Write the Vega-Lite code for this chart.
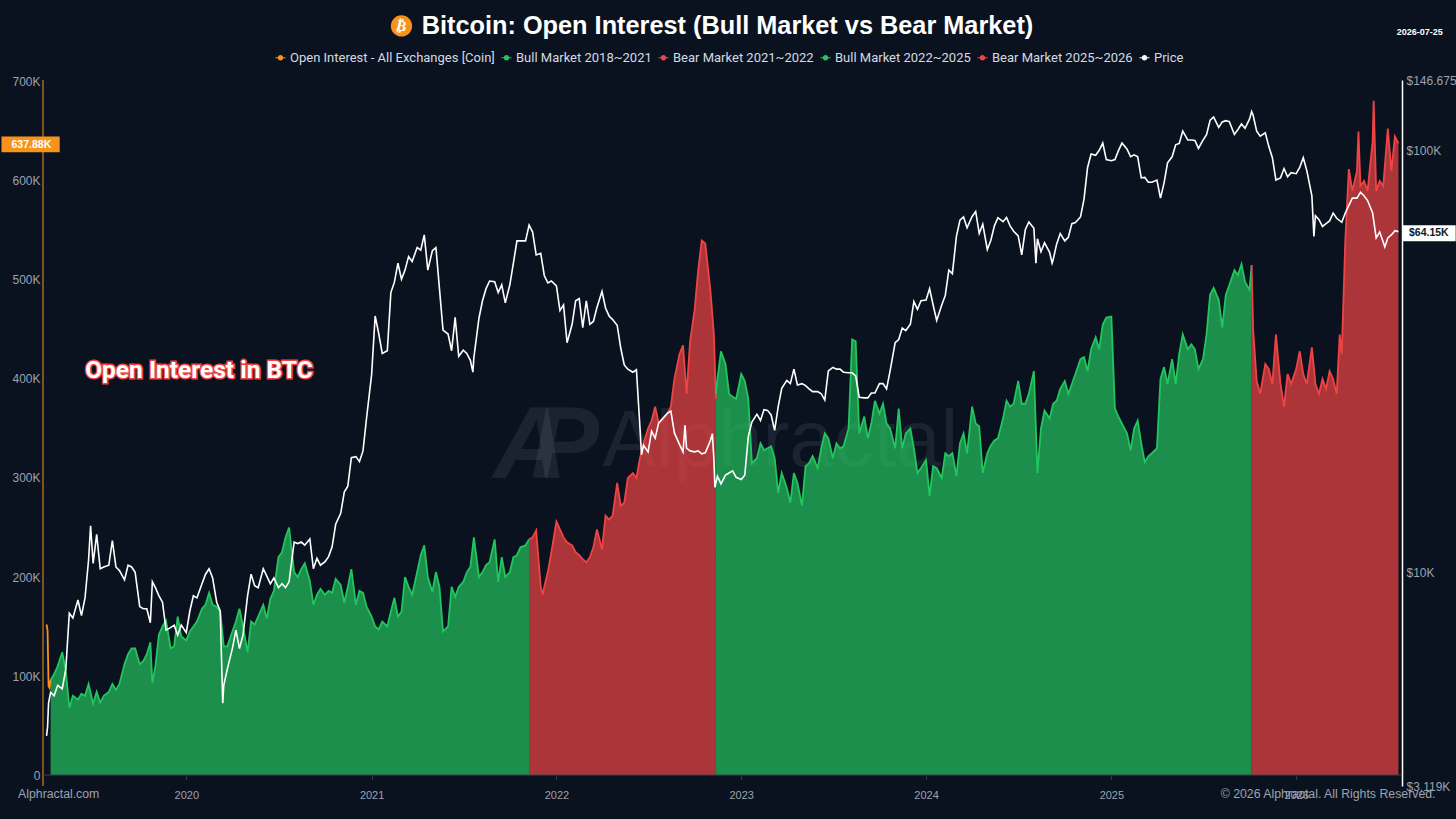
{"$schema":"https://vega.github.io/schema/vega-lite/v6.json","width":1359,"height":706,"autosize":{"type":"none"},"padding":{"left":43,"top":80,"right":54,"bottom":33},"background":"#0a1220","title":{"text":"Bitcoin: Open Interest (Bull Market vs Bear Market)","anchor":"middle","frame":"group","dx":5,"offset":-24,"font":"Liberation Sans","fontSize":25.3,"fontWeight":"bold","color":"#ffffff"},"config":{"view":{"stroke":null},"axis":{"grid":false}},
"datasets":{"oi":[
{"d":"2019-03-31","m":"OI","k":152},{"d":"2019-04-02","m":"OI","k":146},{"d":"2019-04-04","m":"OI","k":90},{"d":"2019-04-06","m":"OI","k":88},{"d":"2019-04-08","m":"OI","k":96},
{"d":"2019-04-08","m":"B1","k":96},{"d":"2019-04-15","m":"B1","k":102},{"d":"2019-04-22","m":"B1","k":110},{"d":"2019-05-01","m":"B1","k":124},{"d":"2019-05-08","m":"B1","k":105},{"d":"2019-05-15","m":"B1","k":68},{"d":"2019-05-22","m":"B1","k":80},{"d":"2019-06-01","m":"B1","k":76},{"d":"2019-06-08","m":"B1","k":82},{"d":"2019-06-15","m":"B1","k":80},{"d":"2019-06-22","m":"B1","k":92},{"d":"2019-07-01","m":"B1","k":72},{"d":"2019-07-08","m":"B1","k":84},{"d":"2019-07-15","m":"B1","k":73},{"d":"2019-07-22","m":"B1","k":80},{"d":"2019-08-01","m":"B1","k":84},{"d":"2019-08-08","m":"B1","k":92},{"d":"2019-08-15","m":"B1","k":86},{"d":"2019-08-22","m":"B1","k":92},{"d":"2019-09-01","m":"B1","k":112},{"d":"2019-09-08","m":"B1","k":122},{"d":"2019-09-15","m":"B1","k":128},{"d":"2019-09-22","m":"B1","k":128},{"d":"2019-10-01","m":"B1","k":112},{"d":"2019-10-08","m":"B1","k":115},{"d":"2019-10-15","m":"B1","k":122},{"d":"2019-10-22","m":"B1","k":134},{"d":"2019-10-26","m":"B1","k":93},{"d":"2019-11-01","m":"B1","k":110},{"d":"2019-11-08","m":"B1","k":142},{"d":"2019-11-15","m":"B1","k":150},{"d":"2019-11-22","m":"B1","k":156},{"d":"2019-12-01","m":"B1","k":128},{"d":"2019-12-08","m":"B1","k":130},{"d":"2019-12-15","m":"B1","k":160},{"d":"2019-12-22","m":"B1","k":140},
{"d":"2020-01-01","m":"B1","k":136},{"d":"2020-01-08","m":"B1","k":145},{"d":"2020-01-15","m":"B1","k":150},{"d":"2020-01-22","m":"B1","k":155},{"d":"2020-02-01","m":"B1","k":168},{"d":"2020-02-08","m":"B1","k":172},{"d":"2020-02-15","m":"B1","k":184},{"d":"2020-02-22","m":"B1","k":172},{"d":"2020-03-01","m":"B1","k":170},{"d":"2020-03-08","m":"B1","k":165},{"d":"2020-03-15","m":"B1","k":130},{"d":"2020-03-22","m":"B1","k":130},{"d":"2020-04-01","m":"B1","k":145},{"d":"2020-04-08","m":"B1","k":155},{"d":"2020-04-15","m":"B1","k":168},{"d":"2020-04-22","m":"B1","k":150},{"d":"2020-05-01","m":"B1","k":124},{"d":"2020-05-08","m":"B1","k":155},{"d":"2020-05-15","m":"B1","k":152},{"d":"2020-05-22","m":"B1","k":160},{"d":"2020-06-01","m":"B1","k":172},{"d":"2020-06-08","m":"B1","k":158},{"d":"2020-06-15","m":"B1","k":178},{"d":"2020-06-22","m":"B1","k":186},{"d":"2020-07-01","m":"B1","k":220},{"d":"2020-07-08","m":"B1","k":225},{"d":"2020-07-15","m":"B1","k":240},{"d":"2020-07-22","m":"B1","k":250},{"d":"2020-08-01","m":"B1","k":205},{"d":"2020-08-08","m":"B1","k":200},{"d":"2020-08-15","m":"B1","k":208},{"d":"2020-08-22","m":"B1","k":214},{"d":"2020-09-01","m":"B1","k":196},{"d":"2020-09-08","m":"B1","k":172},{"d":"2020-09-15","m":"B1","k":182},{"d":"2020-09-22","m":"B1","k":188},{"d":"2020-10-01","m":"B1","k":182},{"d":"2020-10-08","m":"B1","k":186},{"d":"2020-10-15","m":"B1","k":184},{"d":"2020-10-22","m":"B1","k":198},{"d":"2020-11-01","m":"B1","k":192},{"d":"2020-11-08","m":"B1","k":174},{"d":"2020-11-15","m":"B1","k":190},{"d":"2020-11-22","m":"B1","k":208},{"d":"2020-12-01","m":"B1","k":172},{"d":"2020-12-08","m":"B1","k":186},{"d":"2020-12-15","m":"B1","k":184},{"d":"2020-12-22","m":"B1","k":170},
{"d":"2021-01-01","m":"B1","k":160},{"d":"2021-01-08","m":"B1","k":150},{"d":"2021-01-15","m":"B1","k":147},{"d":"2021-01-22","m":"B1","k":155},{"d":"2021-02-01","m":"B1","k":150},{"d":"2021-02-08","m":"B1","k":165},{"d":"2021-02-15","m":"B1","k":179},{"d":"2021-02-22","m":"B1","k":160},{"d":"2021-03-01","m":"B1","k":165},{"d":"2021-03-08","m":"B1","k":200},{"d":"2021-03-15","m":"B1","k":190},{"d":"2021-03-22","m":"B1","k":182},{"d":"2021-04-01","m":"B1","k":205},{"d":"2021-04-08","m":"B1","k":222},{"d":"2021-04-15","m":"B1","k":232},{"d":"2021-04-22","m":"B1","k":200},{"d":"2021-05-01","m":"B1","k":185},{"d":"2021-05-08","m":"B1","k":205},{"d":"2021-05-15","m":"B1","k":190},{"d":"2021-05-22","m":"B1","k":145},{"d":"2021-06-01","m":"B1","k":150},{"d":"2021-06-08","m":"B1","k":190},{"d":"2021-06-15","m":"B1","k":180},{"d":"2021-06-22","m":"B1","k":190},{"d":"2021-07-01","m":"B1","k":195},{"d":"2021-07-08","m":"B1","k":205},{"d":"2021-07-15","m":"B1","k":210},{"d":"2021-07-22","m":"B1","k":240},{"d":"2021-08-01","m":"B1","k":200},{"d":"2021-08-08","m":"B1","k":205},{"d":"2021-08-15","m":"B1","k":212},{"d":"2021-08-22","m":"B1","k":215},{"d":"2021-09-01","m":"B1","k":238},{"d":"2021-09-08","m":"B1","k":195},{"d":"2021-09-15","m":"B1","k":220},{"d":"2021-09-22","m":"B1","k":200},{"d":"2021-10-01","m":"B1","k":205},{"d":"2021-10-08","m":"B1","k":220},{"d":"2021-10-15","m":"B1","k":222},{"d":"2021-10-22","m":"B1","k":230},{"d":"2021-11-01","m":"B1","k":232},{"d":"2021-11-08","m":"B1","k":238},
{"d":"2021-11-08","m":"R1","k":238},{"d":"2021-11-15","m":"R1","k":240},{"d":"2021-11-22","m":"R1","k":247},{"d":"2021-12-01","m":"R1","k":190},{"d":"2021-12-05","m":"R1","k":182},{"d":"2021-12-08","m":"R1","k":190},{"d":"2021-12-15","m":"R1","k":205},{"d":"2021-12-22","m":"R1","k":225},{"d":"2022-01-01","m":"R1","k":256},{"d":"2022-01-08","m":"R1","k":248},{"d":"2022-01-15","m":"R1","k":240},{"d":"2022-01-22","m":"R1","k":235},{"d":"2022-02-01","m":"R1","k":232},{"d":"2022-02-08","m":"R1","k":225},{"d":"2022-02-15","m":"R1","k":222},{"d":"2022-02-22","m":"R1","k":218},{"d":"2022-03-01","m":"R1","k":215},{"d":"2022-03-08","m":"R1","k":220},{"d":"2022-03-15","m":"R1","k":230},{"d":"2022-03-22","m":"R1","k":248},{"d":"2022-04-01","m":"R1","k":228},{"d":"2022-04-08","m":"R1","k":262},{"d":"2022-04-15","m":"R1","k":258},{"d":"2022-04-22","m":"R1","k":262},{"d":"2022-05-01","m":"R1","k":295},{"d":"2022-05-08","m":"R1","k":272},{"d":"2022-05-15","m":"R1","k":275},{"d":"2022-05-22","m":"R1","k":300},{"d":"2022-06-01","m":"R1","k":305},{"d":"2022-06-08","m":"R1","k":300},{"d":"2022-06-15","m":"R1","k":320},{"d":"2022-06-22","m":"R1","k":335},{"d":"2022-07-01","m":"R1","k":350},{"d":"2022-07-08","m":"R1","k":358},{"d":"2022-07-15","m":"R1","k":372},{"d":"2022-07-22","m":"R1","k":355},{"d":"2022-08-01","m":"R1","k":360},{"d":"2022-08-08","m":"R1","k":365},{"d":"2022-08-15","m":"R1","k":372},{"d":"2022-08-22","m":"R1","k":400},{"d":"2022-09-01","m":"R1","k":425},{"d":"2022-09-08","m":"R1","k":434},{"d":"2022-09-15","m":"R1","k":385},{"d":"2022-09-22","m":"R1","k":438},{"d":"2022-10-01","m":"R1","k":470},{"d":"2022-10-08","m":"R1","k":510},{"d":"2022-10-15","m":"R1","k":540},{"d":"2022-10-22","m":"R1","k":537},{"d":"2022-11-01","m":"R1","k":490},{"d":"2022-11-08","m":"R1","k":445},{"d":"2022-11-12","m":"R1","k":380},
{"d":"2022-11-12","m":"B2","k":385},{"d":"2022-11-15","m":"B2","k":400},{"d":"2022-11-22","m":"B2","k":428},{"d":"2022-12-01","m":"B2","k":415},{"d":"2022-12-08","m":"B2","k":385},{"d":"2022-12-15","m":"B2","k":382},{"d":"2022-12-22","m":"B2","k":380},{"d":"2023-01-01","m":"B2","k":405},{"d":"2023-01-08","m":"B2","k":398},{"d":"2023-01-15","m":"B2","k":380},{"d":"2023-01-22","m":"B2","k":315},{"d":"2023-02-01","m":"B2","k":320},{"d":"2023-02-08","m":"B2","k":335},{"d":"2023-02-15","m":"B2","k":328},{"d":"2023-02-22","m":"B2","k":330},{"d":"2023-03-01","m":"B2","k":332},{"d":"2023-03-08","m":"B2","k":320},{"d":"2023-03-15","m":"B2","k":285},{"d":"2023-03-22","m":"B2","k":305},{"d":"2023-04-01","m":"B2","k":290},{"d":"2023-04-08","m":"B2","k":275},{"d":"2023-04-15","m":"B2","k":305},{"d":"2023-04-22","m":"B2","k":295},{"d":"2023-05-01","m":"B2","k":272},{"d":"2023-05-08","m":"B2","k":312},{"d":"2023-05-15","m":"B2","k":315},{"d":"2023-05-22","m":"B2","k":322},{"d":"2023-06-01","m":"B2","k":310},{"d":"2023-06-08","m":"B2","k":330},{"d":"2023-06-15","m":"B2","k":345},{"d":"2023-06-22","m":"B2","k":340},{"d":"2023-07-01","m":"B2","k":320},{"d":"2023-07-08","m":"B2","k":335},{"d":"2023-07-15","m":"B2","k":330},{"d":"2023-07-22","m":"B2","k":332},{"d":"2023-08-01","m":"B2","k":350},{"d":"2023-08-08","m":"B2","k":440},{"d":"2023-08-15","m":"B2","k":438},{"d":"2023-08-22","m":"B2","k":345},{"d":"2023-09-01","m":"B2","k":362},{"d":"2023-09-08","m":"B2","k":340},{"d":"2023-09-15","m":"B2","k":355},{"d":"2023-09-22","m":"B2","k":378},{"d":"2023-10-01","m":"B2","k":365},{"d":"2023-10-08","m":"B2","k":375},{"d":"2023-10-15","m":"B2","k":355},{"d":"2023-10-22","m":"B2","k":350},{"d":"2023-11-01","m":"B2","k":330},{"d":"2023-11-08","m":"B2","k":370},{"d":"2023-11-15","m":"B2","k":330},{"d":"2023-11-22","m":"B2","k":345},{"d":"2023-12-01","m":"B2","k":350},{"d":"2023-12-08","m":"B2","k":330},{"d":"2023-12-15","m":"B2","k":305},{"d":"2023-12-22","m":"B2","k":310},
{"d":"2024-01-01","m":"B2","k":318},{"d":"2024-01-08","m":"B2","k":282},{"d":"2024-01-15","m":"B2","k":312},{"d":"2024-01-22","m":"B2","k":310},{"d":"2024-02-01","m":"B2","k":300},{"d":"2024-02-08","m":"B2","k":325},{"d":"2024-02-15","m":"B2","k":322},{"d":"2024-02-22","m":"B2","k":325},{"d":"2024-03-01","m":"B2","k":302},{"d":"2024-03-08","m":"B2","k":335},{"d":"2024-03-15","m":"B2","k":345},{"d":"2024-03-22","m":"B2","k":325},{"d":"2024-04-01","m":"B2","k":372},{"d":"2024-04-08","m":"B2","k":355},{"d":"2024-04-15","m":"B2","k":352},{"d":"2024-04-22","m":"B2","k":305},{"d":"2024-05-01","m":"B2","k":325},{"d":"2024-05-08","m":"B2","k":333},{"d":"2024-05-15","m":"B2","k":338},{"d":"2024-05-22","m":"B2","k":340},{"d":"2024-06-01","m":"B2","k":360},{"d":"2024-06-08","m":"B2","k":378},{"d":"2024-06-15","m":"B2","k":372},{"d":"2024-06-22","m":"B2","k":375},{"d":"2024-07-01","m":"B2","k":398},{"d":"2024-07-08","m":"B2","k":375},{"d":"2024-07-15","m":"B2","k":375},{"d":"2024-07-22","m":"B2","k":385},{"d":"2024-08-01","m":"B2","k":408},{"d":"2024-08-08","m":"B2","k":305},{"d":"2024-08-15","m":"B2","k":350},{"d":"2024-08-22","m":"B2","k":368},{"d":"2024-09-01","m":"B2","k":360},{"d":"2024-09-08","m":"B2","k":375},{"d":"2024-09-15","m":"B2","k":378},{"d":"2024-09-22","m":"B2","k":390},{"d":"2024-10-01","m":"B2","k":398},{"d":"2024-10-08","m":"B2","k":385},{"d":"2024-10-15","m":"B2","k":395},{"d":"2024-10-22","m":"B2","k":405},{"d":"2024-11-01","m":"B2","k":420},{"d":"2024-11-08","m":"B2","k":422},{"d":"2024-11-15","m":"B2","k":408},{"d":"2024-11-22","m":"B2","k":430},{"d":"2024-12-01","m":"B2","k":442},{"d":"2024-12-08","m":"B2","k":430},{"d":"2024-12-15","m":"B2","k":455},{"d":"2024-12-22","m":"B2","k":462},
{"d":"2025-01-01","m":"B2","k":463},{"d":"2025-01-08","m":"B2","k":370},{"d":"2025-01-15","m":"B2","k":362},{"d":"2025-01-22","m":"B2","k":355},{"d":"2025-02-01","m":"B2","k":345},{"d":"2025-02-08","m":"B2","k":328},{"d":"2025-02-15","m":"B2","k":350},{"d":"2025-02-22","m":"B2","k":358},{"d":"2025-03-01","m":"B2","k":335},{"d":"2025-03-08","m":"B2","k":316},{"d":"2025-03-15","m":"B2","k":322},{"d":"2025-03-22","m":"B2","k":325},{"d":"2025-04-01","m":"B2","k":330},{"d":"2025-04-08","m":"B2","k":400},{"d":"2025-04-15","m":"B2","k":412},{"d":"2025-04-22","m":"B2","k":395},{"d":"2025-05-01","m":"B2","k":420},{"d":"2025-05-08","m":"B2","k":395},{"d":"2025-05-15","m":"B2","k":425},{"d":"2025-05-22","m":"B2","k":445},{"d":"2025-06-01","m":"B2","k":430},{"d":"2025-06-08","m":"B2","k":435},{"d":"2025-06-15","m":"B2","k":430},{"d":"2025-06-22","m":"B2","k":410},{"d":"2025-07-01","m":"B2","k":420},{"d":"2025-07-08","m":"B2","k":445},{"d":"2025-07-15","m":"B2","k":485},{"d":"2025-07-22","m":"B2","k":492},{"d":"2025-08-01","m":"B2","k":480},{"d":"2025-08-08","m":"B2","k":452},{"d":"2025-08-15","m":"B2","k":485},{"d":"2025-08-22","m":"B2","k":495},{"d":"2025-09-01","m":"B2","k":510},{"d":"2025-09-08","m":"B2","k":505},{"d":"2025-09-15","m":"B2","k":516},{"d":"2025-09-22","m":"B2","k":498},{"d":"2025-10-01","m":"B2","k":490},{"d":"2025-10-05","m":"B2","k":515},
{"d":"2025-10-05","m":"R2","k":515},{"d":"2025-10-08","m":"R2","k":450},{"d":"2025-10-15","m":"R2","k":398},{"d":"2025-10-22","m":"R2","k":385},{"d":"2025-11-01","m":"R2","k":415},{"d":"2025-11-08","m":"R2","k":410},{"d":"2025-11-15","m":"R2","k":395},{"d":"2025-11-22","m":"R2","k":445},{"d":"2025-12-01","m":"R2","k":395},{"d":"2025-12-08","m":"R2","k":372},{"d":"2025-12-15","m":"R2","k":405},{"d":"2025-12-22","m":"R2","k":395},{"d":"2026-01-01","m":"R2","k":410},{"d":"2026-01-08","m":"R2","k":428},{"d":"2026-01-15","m":"R2","k":405},{"d":"2026-01-22","m":"R2","k":395},{"d":"2026-02-01","m":"R2","k":432},{"d":"2026-02-08","m":"R2","k":395},{"d":"2026-02-15","m":"R2","k":385},{"d":"2026-02-22","m":"R2","k":400},{"d":"2026-03-01","m":"R2","k":390},{"d":"2026-03-08","m":"R2","k":408},{"d":"2026-03-15","m":"R2","k":400},{"d":"2026-03-22","m":"R2","k":385},{"d":"2026-03-28","m":"R2","k":445},{"d":"2026-04-01","m":"R2","k":425},{"d":"2026-04-08","m":"R2","k":540},{"d":"2026-04-15","m":"R2","k":612},{"d":"2026-04-22","m":"R2","k":590},{"d":"2026-05-01","m":"R2","k":610},{"d":"2026-05-04","m":"R2","k":650},{"d":"2026-05-08","m":"R2","k":595},{"d":"2026-05-15","m":"R2","k":600},{"d":"2026-05-22","m":"R2","k":590},{"d":"2026-06-01","m":"R2","k":640},{"d":"2026-06-03","m":"R2","k":681},{"d":"2026-06-08","m":"R2","k":590},{"d":"2026-06-15","m":"R2","k":600},{"d":"2026-06-22","m":"R2","k":595},{"d":"2026-07-01","m":"R2","k":653},{"d":"2026-07-08","m":"R2","k":610},{"d":"2026-07-15","m":"R2","k":645},{"d":"2026-07-22","m":"R2","k":638}
],"price":[
{"d":"2019-03-31","m":"P","k":4.1},{"d":"2019-04-02","m":"P","k":4.3},{"d":"2019-04-04","m":"P","k":4.9},{"d":"2019-04-08","m":"P","k":5.2},{"d":"2019-04-15","m":"P","k":5.1},{"d":"2019-04-22","m":"P","k":5.4},{"d":"2019-05-01","m":"P","k":5.3},{"d":"2019-05-08","m":"P","k":5.9},{"d":"2019-05-15","m":"P","k":8.0},{"d":"2019-05-22","m":"P","k":7.8},{"d":"2019-06-01","m":"P","k":8.6},{"d":"2019-06-08","m":"P","k":7.9},{"d":"2019-06-15","m":"P","k":8.7},{"d":"2019-06-22","m":"P","k":10.7},{"d":"2019-06-26","m":"P","k":12.9},{"d":"2019-07-01","m":"P","k":10.5},{"d":"2019-07-08","m":"P","k":12.3},{"d":"2019-07-15","m":"P","k":10.2},{"d":"2019-07-22","m":"P","k":10.3},{"d":"2019-08-01","m":"P","k":10.4},{"d":"2019-08-08","m":"P","k":11.9},{"d":"2019-08-15","m":"P","k":10.3},{"d":"2019-08-22","m":"P","k":10.1},{"d":"2019-09-01","m":"P","k":9.6},{"d":"2019-09-08","m":"P","k":10.4},{"d":"2019-09-15","m":"P","k":10.3},{"d":"2019-09-22","m":"P","k":10.0},{"d":"2019-10-01","m":"P","k":8.3},{"d":"2019-10-08","m":"P","k":8.2},{"d":"2019-10-15","m":"P","k":8.2},{"d":"2019-10-22","m":"P","k":7.6},{"d":"2019-10-26","m":"P","k":9.5},{"d":"2019-11-01","m":"P","k":9.2},{"d":"2019-11-08","m":"P","k":8.8},{"d":"2019-11-15","m":"P","k":8.5},{"d":"2019-11-22","m":"P","k":7.3},{"d":"2019-12-01","m":"P","k":7.4},{"d":"2019-12-08","m":"P","k":7.5},{"d":"2019-12-15","m":"P","k":7.1},{"d":"2019-12-22","m":"P","k":7.5},
{"d":"2020-01-01","m":"P","k":7.2},{"d":"2020-01-08","m":"P","k":8.1},{"d":"2020-01-15","m":"P","k":8.8},{"d":"2020-01-22","m":"P","k":8.7},{"d":"2020-02-01","m":"P","k":9.4},{"d":"2020-02-08","m":"P","k":9.9},{"d":"2020-02-15","m":"P","k":10.2},{"d":"2020-02-22","m":"P","k":9.7},{"d":"2020-03-01","m":"P","k":8.5},{"d":"2020-03-08","m":"P","k":8.1},{"d":"2020-03-13","m":"P","k":4.9},{"d":"2020-03-15","m":"P","k":5.4},{"d":"2020-03-22","m":"P","k":5.9},{"d":"2020-04-01","m":"P","k":6.6},{"d":"2020-04-08","m":"P","k":7.3},{"d":"2020-04-15","m":"P","k":6.6},{"d":"2020-04-22","m":"P","k":7.1},{"d":"2020-05-01","m":"P","k":8.8},{"d":"2020-05-08","m":"P","k":9.9},{"d":"2020-05-15","m":"P","k":9.3},{"d":"2020-05-22","m":"P","k":9.2},{"d":"2020-06-01","m":"P","k":10.2},{"d":"2020-06-08","m":"P","k":9.8},{"d":"2020-06-15","m":"P","k":9.4},{"d":"2020-06-22","m":"P","k":9.7},{"d":"2020-07-01","m":"P","k":9.2},{"d":"2020-07-08","m":"P","k":9.4},{"d":"2020-07-15","m":"P","k":9.2},{"d":"2020-07-22","m":"P","k":9.5},{"d":"2020-08-01","m":"P","k":11.8},{"d":"2020-08-08","m":"P","k":11.7},{"d":"2020-08-15","m":"P","k":11.8},{"d":"2020-08-22","m":"P","k":11.6},{"d":"2020-09-01","m":"P","k":12.0},{"d":"2020-09-08","m":"P","k":10.2},{"d":"2020-09-15","m":"P","k":10.8},{"d":"2020-09-22","m":"P","k":10.4},{"d":"2020-10-01","m":"P","k":10.6},{"d":"2020-10-08","m":"P","k":10.9},{"d":"2020-10-15","m":"P","k":11.5},{"d":"2020-10-22","m":"P","k":13.0},{"d":"2020-11-01","m":"P","k":13.8},{"d":"2020-11-08","m":"P","k":15.5},{"d":"2020-11-15","m":"P","k":16.0},{"d":"2020-11-22","m":"P","k":18.7},{"d":"2020-12-01","m":"P","k":18.8},{"d":"2020-12-08","m":"P","k":18.3},{"d":"2020-12-15","m":"P","k":19.4},{"d":"2020-12-22","m":"P","k":23.2},
{"d":"2021-01-01","m":"P","k":29.4},{"d":"2021-01-08","m":"P","k":40.5},{"d":"2021-01-15","m":"P","k":36.8},{"d":"2021-01-22","m":"P","k":33},{"d":"2021-02-01","m":"P","k":33.5},{"d":"2021-02-08","m":"P","k":46},{"d":"2021-02-15","m":"P","k":48.7},{"d":"2021-02-22","m":"P","k":54},{"d":"2021-03-01","m":"P","k":49.5},{"d":"2021-03-08","m":"P","k":52},{"d":"2021-03-15","m":"P","k":56},{"d":"2021-03-22","m":"P","k":54.5},{"d":"2021-04-01","m":"P","k":58.8},{"d":"2021-04-08","m":"P","k":58},{"d":"2021-04-15","m":"P","k":63},{"d":"2021-04-22","m":"P","k":52},{"d":"2021-05-01","m":"P","k":57.8},{"d":"2021-05-08","m":"P","k":58.8},{"d":"2021-05-15","m":"P","k":47},{"d":"2021-05-22","m":"P","k":37.5},{"d":"2021-06-01","m":"P","k":36.7},{"d":"2021-06-08","m":"P","k":33.5},{"d":"2021-06-15","m":"P","k":40.2},{"d":"2021-06-22","m":"P","k":32.5},{"d":"2021-07-01","m":"P","k":33.6},{"d":"2021-07-08","m":"P","k":33},{"d":"2021-07-15","m":"P","k":31.8},{"d":"2021-07-20","m":"P","k":29.8},{"d":"2021-07-22","m":"P","k":32.3},{"d":"2021-08-01","m":"P","k":40},{"d":"2021-08-08","m":"P","k":44},{"d":"2021-08-15","m":"P","k":47},{"d":"2021-08-22","m":"P","k":49},{"d":"2021-09-01","m":"P","k":48.8},{"d":"2021-09-08","m":"P","k":46},{"d":"2021-09-15","m":"P","k":48},{"d":"2021-09-22","m":"P","k":43.5},{"d":"2021-10-01","m":"P","k":48},{"d":"2021-10-08","m":"P","k":54},{"d":"2021-10-15","m":"P","k":61},{"d":"2021-10-22","m":"P","k":61},{"d":"2021-11-01","m":"P","k":61},{"d":"2021-11-08","m":"P","k":66.5},{"d":"2021-11-15","m":"P","k":64},{"d":"2021-11-22","m":"P","k":56.5},{"d":"2021-12-01","m":"P","k":57},{"d":"2021-12-08","m":"P","k":50.5},{"d":"2021-12-15","m":"P","k":48.5},{"d":"2021-12-22","m":"P","k":49},
{"d":"2022-01-01","m":"P","k":47.7},{"d":"2022-01-08","m":"P","k":41.7},{"d":"2022-01-15","m":"P","k":43},{"d":"2022-01-22","m":"P","k":35},{"d":"2022-02-01","m":"P","k":38.7},{"d":"2022-02-08","m":"P","k":44},{"d":"2022-02-15","m":"P","k":44.5},{"d":"2022-02-22","m":"P","k":38},{"d":"2022-03-01","m":"P","k":44},{"d":"2022-03-08","m":"P","k":38.7},{"d":"2022-03-15","m":"P","k":39.3},{"d":"2022-03-22","m":"P","k":42.4},{"d":"2022-04-01","m":"P","k":46.3},{"d":"2022-04-08","m":"P","k":42.3},{"d":"2022-04-15","m":"P","k":40.5},{"d":"2022-04-22","m":"P","k":39.7},{"d":"2022-05-01","m":"P","k":38.5},{"d":"2022-05-08","m":"P","k":34},{"d":"2022-05-15","m":"P","k":31},{"d":"2022-05-22","m":"P","k":30.3},{"d":"2022-06-01","m":"P","k":29.8},{"d":"2022-06-08","m":"P","k":30.2},{"d":"2022-06-15","m":"P","k":22},{"d":"2022-06-18","m":"P","k":19},{"d":"2022-06-22","m":"P","k":20},{"d":"2022-07-01","m":"P","k":19.3},{"d":"2022-07-08","m":"P","k":21.6},{"d":"2022-07-15","m":"P","k":20.8},{"d":"2022-07-22","m":"P","k":22.6},{"d":"2022-08-01","m":"P","k":23.3},{"d":"2022-08-08","m":"P","k":23.8},{"d":"2022-08-15","m":"P","k":24.1},{"d":"2022-08-22","m":"P","k":21.4},{"d":"2022-09-01","m":"P","k":20.1},{"d":"2022-09-08","m":"P","k":19.3},{"d":"2022-09-12","m":"P","k":22.3},{"d":"2022-09-15","m":"P","k":19.7},{"d":"2022-09-22","m":"P","k":19.4},{"d":"2022-10-01","m":"P","k":19.3},{"d":"2022-10-08","m":"P","k":19.4},{"d":"2022-10-15","m":"P","k":19.1},{"d":"2022-10-22","m":"P","k":19.2},{"d":"2022-11-01","m":"P","k":20.5},{"d":"2022-11-05","m":"P","k":21.3},{"d":"2022-11-08","m":"P","k":18.5},{"d":"2022-11-10","m":"P","k":15.9},{"d":"2022-11-15","m":"P","k":16.9},{"d":"2022-11-22","m":"P","k":16.2},{"d":"2022-12-01","m":"P","k":17},{"d":"2022-12-08","m":"P","k":17.2},{"d":"2022-12-15","m":"P","k":17.4},{"d":"2022-12-22","m":"P","k":16.8},
{"d":"2023-01-01","m":"P","k":16.6},{"d":"2023-01-08","m":"P","k":17},{"d":"2023-01-15","m":"P","k":21},{"d":"2023-01-22","m":"P","k":22.7},{"d":"2023-02-01","m":"P","k":23.7},{"d":"2023-02-08","m":"P","k":22.9},{"d":"2023-02-15","m":"P","k":24.3},{"d":"2023-02-22","m":"P","k":24.2},{"d":"2023-03-01","m":"P","k":23.6},{"d":"2023-03-08","m":"P","k":21.7},{"d":"2023-03-15","m":"P","k":24.7},{"d":"2023-03-22","m":"P","k":27.3},{"d":"2023-04-01","m":"P","k":28.5},{"d":"2023-04-08","m":"P","k":28},{"d":"2023-04-15","m":"P","k":30.3},{"d":"2023-04-22","m":"P","k":27.8},{"d":"2023-05-01","m":"P","k":28},{"d":"2023-05-08","m":"P","k":27.7},{"d":"2023-05-15","m":"P","k":27.2},{"d":"2023-05-22","m":"P","k":26.8},{"d":"2023-06-01","m":"P","k":26.8},{"d":"2023-06-08","m":"P","k":26.5},{"d":"2023-06-15","m":"P","k":25.6},{"d":"2023-06-22","m":"P","k":30},{"d":"2023-07-01","m":"P","k":30.6},{"d":"2023-07-08","m":"P","k":30.3},{"d":"2023-07-15","m":"P","k":30.3},{"d":"2023-07-22","m":"P","k":29.8},{"d":"2023-08-01","m":"P","k":29.7},{"d":"2023-08-08","m":"P","k":29.7},{"d":"2023-08-15","m":"P","k":29.2},{"d":"2023-08-22","m":"P","k":26},{"d":"2023-09-01","m":"P","k":25.9},{"d":"2023-09-08","m":"P","k":25.9},{"d":"2023-09-15","m":"P","k":26.6},{"d":"2023-09-22","m":"P","k":26.6},{"d":"2023-10-01","m":"P","k":28},{"d":"2023-10-08","m":"P","k":28},{"d":"2023-10-15","m":"P","k":27.2},{"d":"2023-10-22","m":"P","k":30},{"d":"2023-11-01","m":"P","k":35},{"d":"2023-11-08","m":"P","k":35.6},{"d":"2023-11-15","m":"P","k":37.9},{"d":"2023-11-22","m":"P","k":37.4},{"d":"2023-12-01","m":"P","k":38.7},{"d":"2023-12-08","m":"P","k":43.8},{"d":"2023-12-15","m":"P","k":42},{"d":"2023-12-22","m":"P","k":44},
{"d":"2024-01-01","m":"P","k":44.2},{"d":"2024-01-08","m":"P","k":47},{"d":"2024-01-15","m":"P","k":43},{"d":"2024-01-22","m":"P","k":39.5},{"d":"2024-02-01","m":"P","k":43},{"d":"2024-02-08","m":"P","k":45.3},{"d":"2024-02-15","m":"P","k":52},{"d":"2024-02-22","m":"P","k":51},{"d":"2024-03-01","m":"P","k":62.5},{"d":"2024-03-08","m":"P","k":68.3},{"d":"2024-03-15","m":"P","k":69.5},{"d":"2024-03-22","m":"P","k":65.5},{"d":"2024-04-01","m":"P","k":69.7},{"d":"2024-04-08","m":"P","k":71.6},{"d":"2024-04-15","m":"P","k":63.5},{"d":"2024-04-22","m":"P","k":66.8},{"d":"2024-05-01","m":"P","k":58.2},{"d":"2024-05-08","m":"P","k":61.2},{"d":"2024-05-15","m":"P","k":66.2},{"d":"2024-05-22","m":"P","k":69.2},{"d":"2024-06-01","m":"P","k":67.7},{"d":"2024-06-08","m":"P","k":69.3},{"d":"2024-06-15","m":"P","k":66.2},{"d":"2024-06-22","m":"P","k":64.3},{"d":"2024-07-01","m":"P","k":62.7},{"d":"2024-07-08","m":"P","k":56.5},{"d":"2024-07-15","m":"P","k":64.8},{"d":"2024-07-22","m":"P","k":67.6},{"d":"2024-08-01","m":"P","k":65.3},{"d":"2024-08-05","m":"P","k":54},{"d":"2024-08-08","m":"P","k":61.7},{"d":"2024-08-15","m":"P","k":57.5},{"d":"2024-08-22","m":"P","k":60.4},{"d":"2024-09-01","m":"P","k":57.3},{"d":"2024-09-06","m":"P","k":54},{"d":"2024-09-08","m":"P","k":55},{"d":"2024-09-15","m":"P","k":60},{"d":"2024-09-22","m":"P","k":63.5},{"d":"2024-10-01","m":"P","k":61},{"d":"2024-10-08","m":"P","k":62.2},{"d":"2024-10-15","m":"P","k":67},{"d":"2024-10-22","m":"P","k":67.4},{"d":"2024-11-01","m":"P","k":69.5},{"d":"2024-11-08","m":"P","k":76.6},{"d":"2024-11-15","m":"P","k":91},{"d":"2024-11-22","m":"P","k":98},{"d":"2024-12-01","m":"P","k":97.3},{"d":"2024-12-08","m":"P","k":100},{"d":"2024-12-15","m":"P","k":104},{"d":"2024-12-22","m":"P","k":95},
{"d":"2025-01-01","m":"P","k":94.4},{"d":"2025-01-08","m":"P","k":95},{"d":"2025-01-15","m":"P","k":99.8},{"d":"2025-01-22","m":"P","k":104},{"d":"2025-02-01","m":"P","k":100.6},{"d":"2025-02-08","m":"P","k":96.5},{"d":"2025-02-15","m":"P","k":97.5},{"d":"2025-02-22","m":"P","k":96.5},{"d":"2025-03-01","m":"P","k":86},{"d":"2025-03-08","m":"P","k":86.2},{"d":"2025-03-15","m":"P","k":84},{"d":"2025-03-22","m":"P","k":84},{"d":"2025-04-01","m":"P","k":85},{"d":"2025-04-08","m":"P","k":77},{"d":"2025-04-15","m":"P","k":83.6},{"d":"2025-04-22","m":"P","k":93.4},{"d":"2025-05-01","m":"P","k":96.5},{"d":"2025-05-08","m":"P","k":103},{"d":"2025-05-15","m":"P","k":103.8},{"d":"2025-05-22","m":"P","k":111},{"d":"2025-06-01","m":"P","k":105.7},{"d":"2025-06-08","m":"P","k":105.7},{"d":"2025-06-15","m":"P","k":105.5},{"d":"2025-06-22","m":"P","k":101},{"d":"2025-07-01","m":"P","k":105.7},{"d":"2025-07-08","m":"P","k":108.9},{"d":"2025-07-15","m":"P","k":117.8},{"d":"2025-07-22","m":"P","k":119.8},{"d":"2025-08-01","m":"P","k":113.3},{"d":"2025-08-08","m":"P","k":116.7},{"d":"2025-08-15","m":"P","k":117.5},{"d":"2025-08-22","m":"P","k":116.9},{"d":"2025-09-01","m":"P","k":109},{"d":"2025-09-08","m":"P","k":112},{"d":"2025-09-15","m":"P","k":115.4},{"d":"2025-09-22","m":"P","k":112.7},{"d":"2025-10-01","m":"P","k":118.6},{"d":"2025-10-05","m":"P","k":123.5},{"d":"2025-10-08","m":"P","k":121},{"d":"2025-10-15","m":"P","k":111},{"d":"2025-10-22","m":"P","k":108},{"d":"2025-11-01","m":"P","k":110},{"d":"2025-11-08","m":"P","k":102},{"d":"2025-11-15","m":"P","k":96},{"d":"2025-11-22","m":"P","k":85},{"d":"2025-12-01","m":"P","k":86},{"d":"2025-12-08","m":"P","k":90.5},{"d":"2025-12-15","m":"P","k":86.5},{"d":"2025-12-22","m":"P","k":88.5},
{"d":"2026-01-01","m":"P","k":88},{"d":"2026-01-08","m":"P","k":91},{"d":"2026-01-15","m":"P","k":96},{"d":"2026-01-22","m":"P","k":89.5},{"d":"2026-02-01","m":"P","k":78},{"d":"2026-02-05","m":"P","k":62.5},{"d":"2026-02-08","m":"P","k":70},{"d":"2026-02-15","m":"P","k":68.5},{"d":"2026-02-22","m":"P","k":66},{"d":"2026-03-01","m":"P","k":67},{"d":"2026-03-08","m":"P","k":68},{"d":"2026-03-15","m":"P","k":71},{"d":"2026-03-22","m":"P","k":69},{"d":"2026-04-01","m":"P","k":67.5},{"d":"2026-04-08","m":"P","k":71},{"d":"2026-04-15","m":"P","k":74},{"d":"2026-04-22","m":"P","k":77},{"d":"2026-05-01","m":"P","k":77},{"d":"2026-05-08","m":"P","k":79.5},{"d":"2026-05-15","m":"P","k":78},{"d":"2026-05-22","m":"P","k":76},{"d":"2026-06-01","m":"P","k":71},{"d":"2026-06-08","m":"P","k":62},{"d":"2026-06-15","m":"P","k":64},{"d":"2026-06-22","m":"P","k":60.5},{"d":"2026-06-25","m":"P","k":59},{"d":"2026-07-01","m":"P","k":62},{"d":"2026-07-08","m":"P","k":63},{"d":"2026-07-15","m":"P","k":64.5},{"d":"2026-07-22","m":"P","k":64.15}
]},
"layer":[
{"layer":[
{"data":{"values":[{"d":"2021-11-10","k":300,"t":"A"},{"d":"2022-01-18","k":300,"t":"P"}]},"mark":{"type":"text","font":"Liberation Sans","fontSize":102,"fontWeight":"bold","fontStyle":"italic","color":"#ffffff","opacity":0.07,"align":"center","baseline":"alphabetic"},"encoding":{"x":{"field":"d","type":"temporal","scale":{"domain":["2019-03-24","2026-07-29"],"nice":false},"axis":{"title":null,"format":"%Y","tickCount":{"interval":"year","step":1},"offset":-10,"labelColor":"#9ca3af","labelFont":"Liberation Sans","labelFontSize":11,"labelPadding":10,"tickSize":3,"tickColor":"#3a4250","domain":false,"labelFlush":false,"labelOverlap":false,"labelBound":false,"grid":false}},"y":{"field":"k","type":"quantitative","scale":{"domain":[-11.1,702],"nice":false,"zero":false},"axis":{"title":null,"values":[0,100,200,300,400,500,600,700],"labelExpr":"datum.value==0?'0':datum.value+'K'","labelColor":"#9ca3af","labelFont":"Liberation Sans","labelFontSize":12,"labelPadding":3,"ticks":false,"domain":false,"labelBound":false,"grid":false}},"text":{"field":"t"}}},
{"data":{"values":[{"d":"2022-04-02","k":312,"t":"Alphractal"}]},"mark":{"type":"text","font":"Liberation Sans","fontSize":80,"color":"#ffffff","opacity":0.07,"align":"left","baseline":"alphabetic"},"encoding":{"x":{"field":"d","type":"temporal"},"y":{"field":"k","type":"quantitative"},"text":{"field":"t"}}},
{"data":{"name":"oi"},"transform":[{"filter":"datum.m!='OI'"}],"mark":{"type":"area","opacity":0.7},"encoding":{"x":{"field":"d","type":"temporal"},"y":{"field":"k","type":"quantitative","stack":null},"color":{"field":"m","type":"nominal","scale":{"domain":["OI","B1","R1","B2","R2","P"],"range":["#f7931a","#22c55e","#ef4444","#22c55e","#ef4444","#ffffff"]},"legend":{"title":null,"orient":"none","legendX":231,"legendY":-29,"direction":"horizontal","columns":6,"labelColor":"#d5d9e0","labelFont":"Roboto","labelFontSize":13,"labelOffset":3,"labelLimit":320,"columnPadding":5,"symbolSize":100,"symbolOpacity":1,"symbolStrokeWidth":0,"symbolType":"M -1 -0.1 H 1 V 0.1 H -1 Z M 0.55 0 A 0.55 0.55 0 1 1 -0.55 0 A 0.55 0.55 0 1 1 0.55 0 Z","labelExpr":"{'OI':'Open Interest - All Exchanges [Coin]','B1':'Bull Market 2018~2021','R1':'Bear Market 2021~2022','B2':'Bull Market 2022~2025','R2':'Bear Market 2025~2026','P':'Price'}[datum.label]"}}}},
{"data":{"name":"oi"},"mark":{"type":"line","strokeWidth":1.8},"encoding":{"x":{"field":"d","type":"temporal"},"y":{"field":"k","type":"quantitative"},"color":{"field":"m","type":"nominal"}}},
{"data":{"values":[{"d":"2019-03-24"}]},"mark":{"type":"rule","color":"#f7931a","strokeWidth":1},"encoding":{"x":{"field":"d","type":"temporal"}}},
{"data":{"values":[{"k":0}]},"mark":{"type":"rule","color":"#3a4250","strokeWidth":1},"encoding":{"y":{"field":"k","type":"quantitative"}}},
{"data":{"values":[{"d":"2020-01-26","k":408,"t":"Open Interest in BTC"}]},"mark":{"type":"text","font":"Roboto","fontSize":24.5,"fontWeight":"bold","color":"#ffffff","stroke":"#ef4444","strokeWidth":3,"align":"center","baseline":"middle"},"encoding":{"x":{"field":"d","type":"temporal"},"y":{"field":"k","type":"quantitative"},"text":{"field":"t"}}},
{"data":{"values":[{"d":"2020-01-26","k":408,"t":"Open Interest in BTC"}]},"mark":{"type":"text","font":"Roboto","fontSize":24.5,"fontWeight":"bold","color":"#ffffff","align":"center","baseline":"middle"},"encoding":{"x":{"field":"d","type":"temporal"},"y":{"field":"k","type":"quantitative"},"text":{"field":"t"}}},
{"data":{"values":[{"d":"2021-03-01","k":756.6}]},"mark":{"type":"point","shape":"circle","filled":true,"size":452,"color":"#f7931a","opacity":1},"encoding":{"x":{"field":"d","type":"temporal"},"y":{"field":"k","type":"quantitative"}}},
{"data":{"values":[{"d":"2021-03-01","k":756.6,"t":"₿"}]},"mark":{"type":"text","font":"DejaVu Sans","fontSize":15,"fontWeight":"bold","color":"#ffffff","angle":14,"align":"center","baseline":"middle"},"encoding":{"x":{"field":"d","type":"temporal"},"y":{"field":"k","type":"quantitative"},"text":{"field":"t"}}},
{"data":{"values":[{"d":"2026-09-02","k":750.5,"t":"2026-07-25"}]},"mark":{"type":"text","font":"Liberation Sans","fontSize":9,"fontWeight":"bold","color":"#ffffff","align":"center","baseline":"middle"},"encoding":{"x":{"field":"d","type":"temporal"},"y":{"field":"k","type":"quantitative"},"text":{"field":"t"}}},
{"data":{"values":[{"d":"2019-04-24","k":-19,"t":"Alphractal.com"},{"d":"2026-03-05","k":-19,"t":"© 2026 Alphractal. All Rights Reserved."}]},"mark":{"type":"text","font":"Liberation Sans","fontSize":12.3,"color":"#9ca3af","align":"center","baseline":"middle"},"encoding":{"x":{"field":"d","type":"temporal"},"y":{"field":"k","type":"quantitative"},"text":{"field":"t"}}},
{"data":{"values":[{"d":"2019-01-01","d2":"2019-04-26","k":645,"k2":629}]},"mark":{"type":"rect","color":"#f7931a","opacity":1},"encoding":{"x":{"field":"d","type":"temporal"},"x2":{"field":"d2"},"y":{"field":"k","type":"quantitative"},"y2":{"field":"k2"}}},
{"data":{"values":[{"d":"2019-03-01","k":636.5,"t":"637.88K"}]},"mark":{"type":"text","font":"Liberation Sans","fontSize":10.5,"fontWeight":"bold","color":"#ffffff","align":"center","baseline":"middle"},"encoding":{"x":{"field":"d","type":"temporal"},"y":{"field":"k","type":"quantitative"},"text":{"field":"t"}}}
]},
{"layer":[
{"data":{"name":"price"},"mark":{"type":"line","strokeWidth":1.6},"encoding":{"x":{"field":"d","type":"temporal"},"y":{"field":"k","type":"quantitative","scale":{"type":"log","domain":[3.119,146.675],"nice":false},"axis":{"orient":"right","title":null,"values":[3.119,10,100,146.675],"labelExpr":"'$'+datum.value+'K'","labelColor":"#9ca3af","labelFont":"Liberation Sans","labelFontSize":12,"labelPadding":4,"ticks":false,"domainColor":"#ffffff","domainWidth":1.5,"labelBound":false,"labelFlush":false,"labelOverlap":false,"grid":false}},"color":{"field":"m","type":"nominal"}}},
{"data":{"values":[{"d":"2026-07-31","d2":"2026-11-12","k":66.4,"k2":60.9}]},"mark":{"type":"rect","color":"#ffffff","opacity":1},"encoding":{"x":{"field":"d","type":"temporal"},"x2":{"field":"d2"},"y":{"field":"k","type":"quantitative"},"y2":{"field":"k2"}}},
{"data":{"values":[{"d":"2026-09-20","k":63.6,"t":"$64.15K"}]},"mark":{"type":"text","font":"Liberation Sans","fontSize":10.5,"fontWeight":"bold","color":"#111827","align":"center","baseline":"middle"},"encoding":{"x":{"field":"d","type":"temporal"},"y":{"field":"k","type":"quantitative"},"text":{"field":"t"}}}
]}
],
"resolve":{"scale":{"y":"independent"},"axis":{"y":"independent"}}}
